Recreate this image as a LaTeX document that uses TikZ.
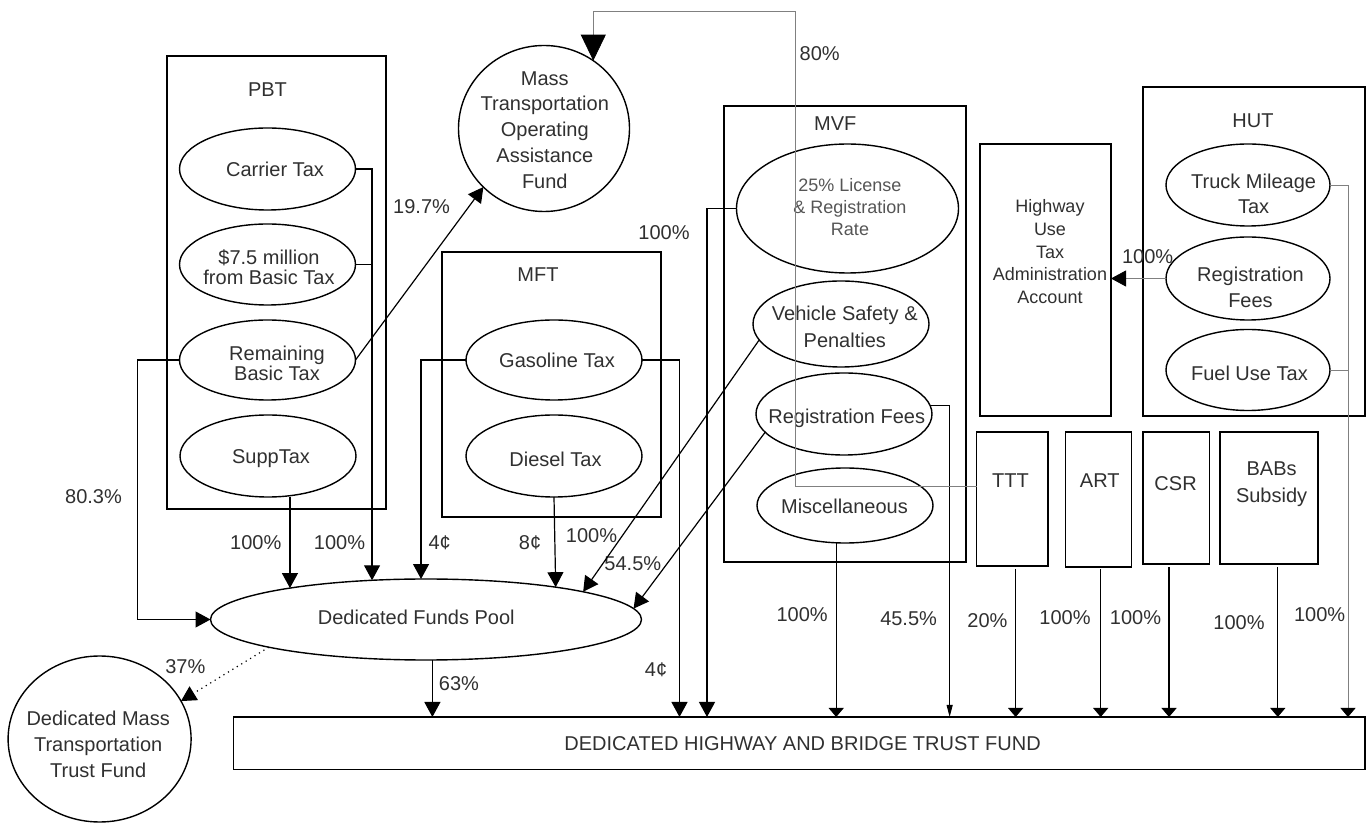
\documentclass[tikz,border=0pt]{standalone}
\usepackage{fontspec}
\setmainfont{Liberation Sans}
\usetikzlibrary{shapes.geometric,arrows.meta}
\definecolor{txt}{HTML}{303030}
\definecolor{lic}{HTML}{555555}
\definecolor{gline}{HTML}{808080}
\begin{document}
\begin{tikzpicture}[x=0.5pt,y=-0.5pt,
  shp/.style={draw=black, line width=0.7pt, inner sep=0pt, outer sep=0pt},
  ell/.style={shp, ellipse},
  box/.style={shp, rectangle},
  txtn/.style={text=txt, inner sep=0pt, align=center, font=\fontsize{10}{13}\selectfont},
  con/.style={draw=black, line width=0.6pt},
  grayline/.style={draw=gline, line width=0.4pt},
  arrA/.style={-{Triangle[length=7.5pt,width=8pt,color=black]}},
  arrB/.style={-{Triangle[length=4.5pt,width=7.5pt,color=black]}},
  arrC/.style={-{Triangle[length=6pt,width=3pt,color=black]}},
]
\useasboundingbox (0,0) rectangle (1367,823);

% ---------- PBT ----------
\node[box, minimum width=109.5pt, minimum height=226.5pt] (pbt) at (276.5,282.5) {};
\node[txtn] (pbtlbl) at (267.5,90) {PBT};
\node[ell, minimum width=88pt, minimum height=41pt] (carrier) at (267.5,169) {};
\node[txtn] (carriert) at (275,169) {Carrier Tax};
\node[ell, minimum width=88pt, minimum height=40.5pt] (sevenfive) at (267.5,264.5) {};
\node[txtn, font=\fontsize{10}{10}\selectfont] (sevenfivet) at (269,266.7) {\$7.5 million\\from Basic Tax};
\node[ell, minimum width=88pt, minimum height=40pt] (remaining) at (267.5,360) {};
\node[txtn, font=\fontsize{10}{10}\selectfont] (remainingt) at (277,363) {Remaining\\Basic Tax};
\node[ell, minimum width=88pt, minimum height=41pt] (supp) at (268,456) {};
\node[txtn] (suppt) at (271,459) {SuppTax};

% ---------- MFT ----------
\node[box, minimum width=109.5pt, minimum height=132.5pt] (mft) at (551.5,384.5) {};
\node[txtn] (mftlbl) at (538,275) {MFT};
\node[ell, minimum width=88pt, minimum height=40pt] (gasoline) at (554,360) {};
\node[txtn] (gasolinet) at (557,360) {Gasoline Tax};
\node[ell, minimum width=88pt, minimum height=41pt] (diesel) at (554,456) {};
\node[txtn] (dieselt) at (555.5,459) {Diesel Tax};

% ---------- Mass Transportation circle ----------
\node[ell, minimum width=85.5pt, minimum height=83pt] (mass) at (544,128.5) {};
\node[txtn, font=\fontsize{10}{12.9}\selectfont] (masst) at (544.8,130) {Mass\\Transportation\\Operating\\Assistance\\Fund};

% ---------- MVF ----------
\node[box, minimum width=121pt, minimum height=228pt] (mvf) at (845,334) {};
\node[txtn] (mvflbl) at (835.3,123.3) {MVF};
\node[ell, minimum width=111pt, minimum height=64.5pt] (license) at (847.5,208.5) {};
\node[txtn, text=lic, font=\fontsize{9}{11}\selectfont] (licenset) at (850,207) {25\% License\\\& Registration\\Rate};
\node[ell, minimum width=88pt, minimum height=43pt] (vehicle) at (841,324) {};
\node[txtn, font=\fontsize{10}{13.5}\selectfont] (vehiclet) at (844.8,326.5) {Vehicle Safety \&\\Penalties};
\node[ell, minimum width=88pt, minimum height=41pt] (mvfreg) at (844,414) {};
\node[txtn] (mvfregt) at (846.7,418.3) {Registration Fees};
\node[ell, minimum width=88pt, minimum height=37.5pt] (misc) at (845,505.5) {};
\node[txtn] (misct) at (844.5,506) {Miscellaneous};

% ---------- Admin account ----------
\node[box, minimum width=65.5pt, minimum height=136pt] (admin) at (1045.5,280) {};
\node[txtn, font=\fontsize{9}{11.4}\selectfont] (admint) at (1050,251.6) {Highway\\Use\\Tax\\Administration\\Account};

% ---------- HUT ----------
\node[box, minimum width=111pt, minimum height=164.5pt] (hut) at (1254,251.5) {};
\node[txtn] (hutlbl) at (1253,120.7) {HUT};
\node[ell, minimum width=82pt, minimum height=41pt] (truck) at (1248,185) {};
\node[txtn, font=\fontsize{10}{12.5}\selectfont] (truckt) at (1253.6,194) {Truck Mileage\\Tax};
\node[ell, minimum width=82pt, minimum height=41.5pt] (hutreg) at (1248,278.5) {};
\node[txtn] (hutregt) at (1250.5,287) {Registration\\Fees};
\node[ell, minimum width=82pt, minimum height=40.5pt] (fueluse) at (1248,370) {};
\node[txtn] (fueluset) at (1249.4,373.3) {Fuel Use Tax};

% ---------- small boxes ----------
\node[box, minimum width=35.75pt, minimum height=67pt] (ttt) at (1012.25,499) {};
\node[txtn] (tttt) at (1010.4,480.7) {TTT};
\node[box, minimum width=33pt, minimum height=67.5pt] (art) at (1098.5,499.5) {};
\node[txtn] (artt) at (1099.8,480.7) {ART};
\node[box, minimum width=33.25pt, minimum height=66pt] (csr) at (1176.25,498) {};
\node[txtn] (csrt) at (1175.6,483.3) {CSR};
\node[box, minimum width=49pt, minimum height=66pt] (babs) at (1269,498) {};
\node[txtn, font=\fontsize{10}{13.3}\selectfont] (babst) at (1271.6,484) {BABs\\Subsidy};

% ---------- pool, trust funds ----------
\node[ell, minimum width=215.5pt, minimum height=40.5pt] (pool) at (426,619.5) {};
\node[txtn] (poolt) at (416.3,617.3) {Dedicated Funds Pool};
\node[box, minimum width=565.75pt, minimum height=26.15pt] (dhbtf) at (799.25,743.15) {};
\node[txtn] (dhbtft) at (802.6,743.3) {DEDICATED HIGHWAY AND BRIDGE TRUST FUND};
\node[ell, minimum width=91.5pt, minimum height=83pt] (dmttf) at (99.6,739) {};
\node[txtn, font=\fontsize{10}{12.9}\selectfont] (dmttft) at (98.2,744.4) {Dedicated Mass\\Transportation\\Trust Fund};

% ---------- labels ----------
\node[txtn] (l80) at (819.7,53.3) {80\%};
\node[txtn] (l197) at (421.6,206.7) {19.7\%};
\node[txtn] (l100a) at (664,233) {100\%};
\node[txtn] (l803) at (93.5,496.7) {80.3\%};
\node[txtn] (l100b) at (255.8,542.7) {100\%};
\node[txtn] (l100c) at (339.5,542.7) {100\%};
\node[txtn] (l4a) at (439.7,542.7) {4¢};
\node[txtn] (l8) at (530,542.7) {8¢};
\node[txtn] (l100d) at (591.5,536) {100\%};
\node[txtn] (l545) at (632.8,564) {54.5\%};
\node[txtn] (l37) at (185.3,666.7) {37\%};
\node[txtn] (l63) at (459,683.3) {63\%};
\node[txtn] (l4b) at (656,670) {4¢};
\node[txtn] (l100e) at (802.2,615) {100\%};
\node[txtn] (l455) at (908.6,619) {45.5\%};
\node[txtn] (l20) at (987.5,620.7) {20\%};
\node[txtn] (l100f) at (1065,618) {100\%};
\node[txtn] (l100g) at (1135.5,618) {100\%};
\node[txtn] (l100h) at (1239,622.7) {100\%};
\node[txtn] (l100i) at (1319.6,615) {100\%};
\node[txtn] (l100j) at (1147.6,256.7) {100\%};

% ---------- helper coordinates ----------
\coordinate (gR) at ([xshift=18.75pt]gasoline.east);
\coordinate (lL) at ([xshift=-14.75pt]license.west);
\coordinate (mS) at ([xshift=-4.4pt]misc.south);
\coordinate (rR) at ([xshift=9.9pt]mvfreg.6);
\coordinate (tS) at ([xshift=1.7pt,yshift=-1.5pt]ttt.south);
\coordinate (aS) at ([xshift=1.1pt,yshift=-1.2pt]art.south);
\coordinate (cS) at ([xshift=-3.6pt,yshift=-1.5pt]csr.south);
\coordinate (bS) at ([xshift=4.4pt,yshift=-1.5pt]babs.south);
\coordinate (hR) at ([xshift=9pt]truck.east);
\coordinate (tW) at ([yshift=6.5pt]ttt.west);
\coordinate (bend80) at (795,11.7);

% ---------- connectors ----------
\draw[con, arrA] (carrier.east) -| (pool.144.3);
\draw[con] (sevenfive.east) -- (sevenfive.east -| pool.144.3);
\draw[con, arrA] (remaining.west) -- ++(-41.8,0) |- (pool.west);
\draw[con, arrA] (remaining.east) -- (mass.224);
\draw[con, arrA] (pool.167 |- supp.south) -- (pool.167);
\draw[con, arrA] (gasoline.west) -| (pool.97);
\draw[con, arrA] (gasoline.east) -| (gR |- dhbtf.north);
\draw[con, arrA] (diesel.south) -- (pool.14.2);
\draw[con, arrA] (license.west) -| (lL |- dhbtf.north);
\draw[con, arrA] (vehicle.191) -- (pool.10.5);
\draw[con, arrA] (mvfreg.193) -- (pool.3.6);
\draw[con, arrA] (pool.-81.6) -- (pool.-81.6 |- dhbtf.north);
\draw[con, dotted, arrA] (pool.190.4) -- (dmttf.25.1);
\draw[con, arrB] (mS) -- (mS |- dhbtf.north);
\draw[con, line width=0.45pt, arrC] (mvfreg.6) -| (rR |- dhbtf.north);
\draw[con, arrB] (tS) -- (tS |- dhbtf.north);
\draw[con, arrB] (aS) -- (aS |- dhbtf.north);
\draw[con, arrB] (cS) -- (cS |- dhbtf.north);
\draw[con, arrB] (bS) -- (bS |- dhbtf.north);
\draw[grayline, arrB] (truck.east) -| (hR |- dhbtf.north);
\draw[grayline] (fueluse.east) -- (hR |- fueluse.east);
\draw[grayline, arrA] (hutreg.west) -- (hutreg.west -| admin.east);
\draw[grayline, -{Triangle[length=13pt,width=12.5pt,color=black]}] (tW) -| (bend80) -| (mass.54.7);
\end{tikzpicture}
\end{document}
